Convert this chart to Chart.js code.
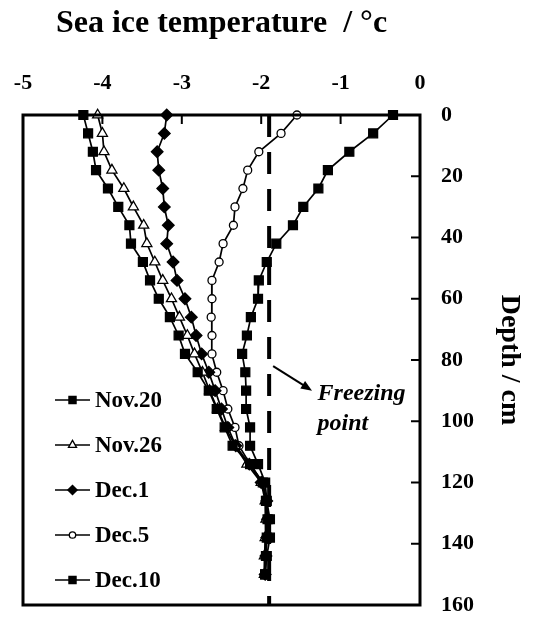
<!DOCTYPE html>
<html>
<head>
<meta charset="utf-8">
<script src="https://cdn.jsdelivr.net/npm/chart.js@4.4.0/dist/chart.umd.min.js"></script>
<style>
  html, body { margin: 0; padding: 0; background: #fff; }
  #wrap { width: 537px; height: 618px; }
</style>
</head>
<body>
<div id="wrap"><canvas id="chart" width="537" height="618"></canvas></div>
<script>
// depth of each thermistor reading, cm
const depths = [0, 6, 12, 18, 24, 30, 36, 42, 48, 54, 60, 66, 72, 78, 84, 90, 96, 102, 108, 114, 120, 126, 132, 138, 144, 150]

// temperatures, degC
const nov20 = [-4.24, -4.18, -4.12, -4.08, -3.93, -3.80, -3.66, -3.64, -3.49, -3.40, -3.29, -3.15, -3.04, -2.96, -2.80, -2.66, -2.56, -2.46, -2.36, -2.14, -1.98, -1.94, -1.92, -1.93, -1.94, -1.95]
const nov26 = [-4.06, -4.00, -3.98, -3.88, -3.73, -3.61, -3.48, -3.44, -3.34, -3.24, -3.13, -3.03, -2.93, -2.84, -2.74, -2.65, -2.55, -2.45, -2.33, -2.18, -2.00, -1.95, -1.94, -1.95, -1.96, -1.96]
const dec1 = [-3.19, -3.22, -3.31, -3.29, -3.24, -3.22, -3.17, -3.19, -3.11, -3.06, -2.96, -2.88, -2.82, -2.75, -2.66, -2.58, -2.50, -2.42, -2.32, -2.15, -2.00, -1.93, -1.92, -1.93, -1.94, -1.95]
const dec5 = [-1.55, -1.75, -2.03, -2.17, -2.23, -2.33, -2.35, -2.48, -2.53, -2.62, -2.62, -2.63, -2.62, -2.62, -2.56, -2.48, -2.42, -2.33, -2.28, -2.14, -1.98, -1.93, -1.93, -1.94, -1.95, -1.96]
const dec10 = [-0.34, -0.59, -0.89, -1.16, -1.28, -1.47, -1.60, -1.81, -1.93, -2.03, -2.04, -2.13, -2.18, -2.24, -2.20, -2.19, -2.19, -2.14, -2.14, -2.04, -1.95, -1.93, -1.89, -1.89, -1.93, -1.95]

const freezingPoint = -1.9
const xTicks = [-5, -4, -3, -2, -1, 0]
const yTicks = [0, 20, 40, 60, 80, 100, 120, 140, 160]

const serif = '"Liberation Serif", "Times New Roman", serif'

function series(label, temps, style, fill, radius) {
    return {
        label: label,
        data: temps.map((t, i) => ({ x: t, y: depths[i] })),
        showLine: true,
        borderColor: '#000',
        borderWidth: 1.7,
        pointStyle: style,
        pointRadius: radius,
        pointBackgroundColor: fill,
        pointBorderColor: '#000',
        pointBorderWidth: 1.3,
        clip: false
    }
}

const datasets = [
    series('Nov.20', nov20, 'rect', '#000', 6.3),
    series('Nov.26', nov26, 'triangle', '#fff', 5.8),
    series('Dec.1', dec1, 'rectRot', '#000', 5.8),
    series('Dec.5', dec5, 'circle', '#fff', 4),
    series('Dec.10', dec10, 'rect', '#000', 6.3),
    {
        label: 'freezing',
        data: [{ x: freezingPoint, y: 0 }, { x: freezingPoint, y: 160 }],
        showLine: true,
        borderColor: '#000',
        borderWidth: 4,
        borderDash: [22, 15],
        pointRadius: 0
    }
]

// frame, inner ticks, legend box and the freezing point note
const decor = {
    id: 'decor',
    afterDatasetsDraw(chart) {
        const ctx = chart.ctx
        const a = chart.chartArea
        const xs = chart.scales.x
        const ys = chart.scales.y
        ctx.save()
        ctx.strokeStyle = '#000'
        ctx.fillStyle = '#000'

        ctx.lineWidth = 2
        xTicks.slice(1, -1).forEach(v => {
            const px = xs.getPixelForValue(v)
            ctx.beginPath()
            ctx.moveTo(px, a.top)
            ctx.lineTo(px, a.top + 9)
            ctx.stroke()
        })
        yTicks.slice(1, -1).forEach(v => {
            const py = ys.getPixelForValue(v)
            ctx.beginPath()
            ctx.moveTo(a.right, py)
            ctx.lineTo(a.right - 9, py)
            ctx.stroke()
        })

        ctx.lineWidth = 3
        ctx.strokeRect(a.left, a.top, a.right - a.left, a.bottom - a.top)

        // arrow to the dashed line
        const x0 = xs.getPixelForValue(freezingPoint) + 4
        const y0 = ys.getPixelForValue(82)
        const x1 = xs.getPixelForValue(-1.36)
        const y1 = ys.getPixelForValue(90)
        const ang = Math.atan2(y1 - y0, x1 - x0)
        ctx.lineWidth = 2
        ctx.beginPath()
        ctx.moveTo(x0, y0)
        ctx.lineTo(x1 - 6 * Math.cos(ang), y1 - 6 * Math.sin(ang))
        ctx.stroke()
        ctx.beginPath()
        ctx.moveTo(x1, y1)
        ctx.lineTo(x1 - 11 * Math.cos(ang) + 4.5 * Math.sin(ang), y1 - 11 * Math.sin(ang) - 4.5 * Math.cos(ang))
        ctx.lineTo(x1 - 11 * Math.cos(ang) - 4.5 * Math.sin(ang), y1 - 11 * Math.sin(ang) + 4.5 * Math.cos(ang))
        ctx.closePath()
        ctx.fill()

        ctx.font = 'italic bold 24px ' + serif
        ctx.textAlign = 'left'
        ctx.textBaseline = 'alphabetic'
        const tx = xs.getPixelForValue(-1.29)
        ctx.fillText('Freezing', tx, ys.getPixelForValue(93))
        ctx.fillText('point', tx, ys.getPixelForValue(102.8))

        // legend
        const items = chart.data.datasets.slice(0, 5)
        ctx.font = 'bold 23px ' + serif
        ctx.textBaseline = 'middle'
        items.forEach((ds, i) => {
            const ly = a.bottom - 25 - (items.length - 1 - i) * 45
            const lx = a.left + 32
            ctx.lineWidth = 1.7
            ctx.strokeStyle = '#000'
            ctx.beginPath()
            ctx.moveTo(lx, ly)
            ctx.lineTo(lx + 35, ly)
            ctx.stroke()
            ctx.fillStyle = ds.pointBackgroundColor
            ctx.lineWidth = 1.3
            Chart.helpers.drawPoint(ctx, {
                pointStyle: ds.pointStyle,
                radius: ds.pointRadius * 0.8,
                rotation: 0,
                borderWidth: 1.3
            }, lx + 17.5, ly)
            ctx.fillStyle = '#000'
            ctx.fillText(ds.label, lx + 40, ly + 1)
        })
        ctx.restore()
    }
}

new Chart(document.getElementById('chart'), {
    type: 'scatter',
    data: { datasets: datasets },
    options: {
        responsive: false,
        animation: false,
        layout: { padding: { left: 23, right: 0, top: 0, bottom: 13 } },
        plugins: {
            legend: { display: false },
            tooltip: { enabled: false }
        },
        scales: {
            x: {
                type: 'linear',
                position: 'top',
                min: -5,
                max: 0,
                grid: { display: false, drawTicks: false },
                border: { display: false },
                afterBuildTicks: scale => { scale.ticks = xTicks.map(v => ({ value: v })) },
                ticks: {
                    color: '#000',
                    padding: 18,
                    font: { family: serif, size: 22, weight: 'bold' }
                },
                title: {
                    display: true,
                    text: 'Sea ice temperature  / °c',
                    color: '#000',
                    padding: { top: 5, bottom: 0 },
                    font: { family: serif, size: 32, weight: 'bold' }
                },
                afterFit: scale => {
                    scale.height = 115
                    scale.paddingLeft = 0
                    scale.paddingRight = 0
                }
            },
            y: {
                type: 'linear',
                position: 'right',
                reverse: true,
                min: 0,
                max: 160,
                grid: { display: false, drawTicks: false },
                border: { display: false },
                afterBuildTicks: scale => { scale.ticks = yTicks.map(v => ({ value: v })) },
                ticks: {
                    color: '#000',
                    padding: 21,
                    font: { family: serif, size: 22, weight: 'bold' }
                },
                title: {
                    display: true,
                    text: 'Depth / cm',
                    color: '#000',
                    padding: { top: 11, bottom: 0 },
                    font: { family: serif, size: 28, weight: 'bold' }
                },
                afterFit: scale => {
                    scale.width = 117
                    scale.paddingTop = 0
                    scale.paddingBottom = 0
                }
            }
        }
    },
    plugins: [decor]
})
</script>
</body>
</html>
